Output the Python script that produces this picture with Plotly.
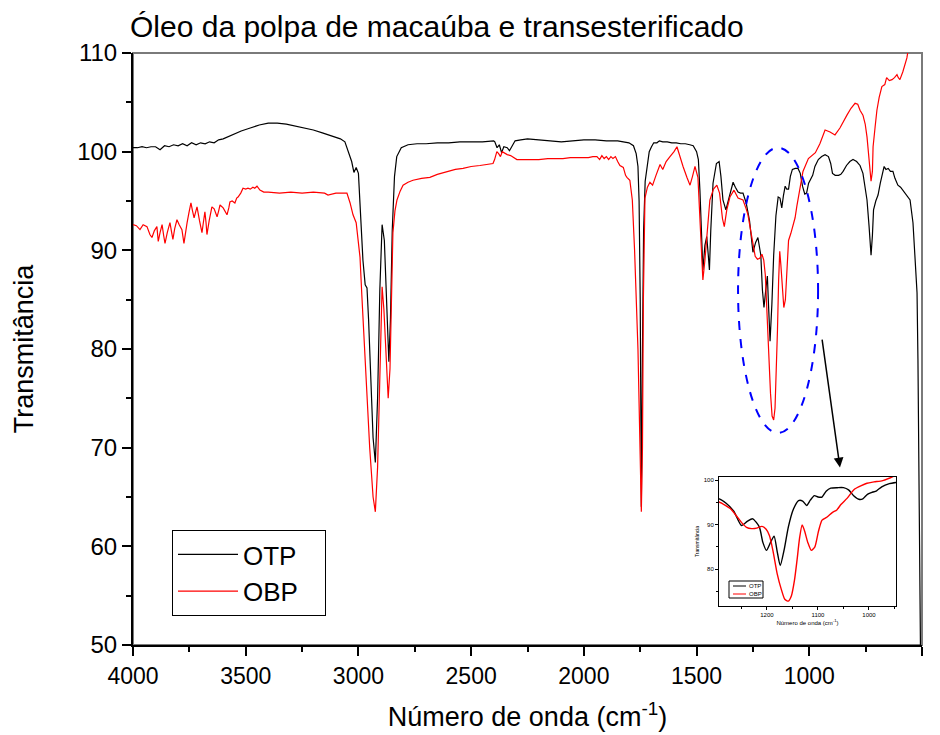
import plotly.graph_objects as go

# ---------------- data ----------------
otp_x = [4000, 3980, 3960, 3940, 3920, 3900, 3880, 3860, 3840, 3820, 3800, 3780, 3760, 3740, 3720,
         3700, 3680, 3660, 3640, 3620, 3600, 3560, 3520, 3480, 3440, 3400, 3360, 3320, 3280, 3240,
         3200, 3160, 3120, 3080, 3060, 3040, 3030, 3020, 3010, 3000, 2990, 2980, 2970, 2962, 2955,
         2945, 2935, 2925, 2915, 2905, 2895, 2885, 2875, 2865, 2858, 2850, 2840, 2830, 2810, 2780,
         2740, 2700, 2650, 2600, 2550, 2500, 2450, 2400, 2395, 2385, 2375, 2365, 2355, 2340, 2330,
         2320, 2305, 2280, 2250, 2200, 2150, 2100, 2050, 2000, 1950, 1900, 1850, 1800, 1780, 1768,
         1760, 1755, 1750, 1745, 1740, 1735, 1728, 1720, 1710, 1700, 1690, 1676, 1665, 1650, 1630,
         1610, 1590, 1570, 1550, 1530, 1515, 1500, 1492, 1485, 1478, 1472, 1463, 1455, 1448, 1443,
         1437, 1427, 1412, 1400, 1392, 1383, 1370, 1360, 1350, 1338, 1328, 1316, 1305, 1294, 1280,
         1265, 1250, 1238, 1228, 1215, 1208, 1201, 1193, 1186, 1180, 1174, 1166, 1158, 1148, 1138,
         1130, 1122, 1115, 1107, 1100, 1092, 1084, 1075, 1062, 1050, 1040, 1030, 1020, 1012, 1003,
         995, 985, 975, 960, 945, 930, 915, 905, 897, 885, 870, 860, 850, 835, 820,
         806, 790, 775, 762, 752, 744, 735, 726, 720, 715, 705, 695, 685, 675, 668,
         660, 650, 640, 629, 620, 607, 595, 585, 570, 553, 540, 530, 522, 518, 514,
         510, 505]
otp_y = [100.4, 100.4, 100.5, 100.4, 100.5, 100.5, 100.2, 100.6, 100.5, 100.7, 100.6, 100.8, 100.6, 100.9, 100.7,
         100.9, 100.8, 101.0, 100.9, 101.2, 101.3, 101.7, 102.1, 102.4, 102.7, 102.9, 102.9, 102.8, 102.6, 102.4,
         102.2, 101.9, 101.6, 101.3, 101.0, 99.8, 99.0, 97.9, 98.4, 97.8, 94.0, 89.0, 86.5, 86.2, 83.0,
         77.0, 71.0, 68.5, 75.0, 86.0, 92.6, 91.0, 85.0, 78.7, 83.0, 92.0, 97.5, 99.5, 100.4, 100.7,
         100.8, 100.8, 100.9, 100.9, 101.0, 101.0, 101.0, 101.1, 101.0, 100.4, 100.7, 99.9, 100.5, 100.4, 100.1,
         100.5, 101.1, 101.2, 101.3, 101.2, 101.1, 101.0, 101.1, 101.2, 101.2, 101.1, 101.1, 100.9, 100.6, 99.8,
         98.5, 95.0, 85.0, 64.0, 80.0, 92.0, 97.0, 98.5, 100.0, 100.5, 100.9, 100.9, 101.1, 101.0, 101.0,
         100.9, 100.9, 100.8, 100.8, 100.7, 100.6, 100.0, 99.2, 96.0, 91.0, 88.0, 90.5, 91.4, 89.5, 88.0,
         92.0, 96.8, 98.8, 99.0, 97.5, 95.1, 94.1, 95.0, 95.8, 96.9, 96.4, 95.9, 95.8, 95.8, 94.8,
         93.0, 89.8, 90.8, 91.3, 89.5, 86.0, 84.2, 86.0, 87.4, 84.0, 80.8, 84.5, 89.5, 93.5, 95.4,
         95.3, 94.3, 95.5, 96.5, 96.2, 96.2, 97.5, 98.2, 98.3, 98.3, 97.8, 96.5, 95.7, 95.8, 96.8,
         97.2, 97.6, 98.5, 99.2, 99.5, 99.7, 99.5, 98.8, 97.8, 97.6, 97.6, 97.7, 98.0, 98.6, 99.0,
         99.2, 99.0, 98.6, 97.8, 96.5, 95.1, 92.5, 89.5, 91.5, 94.1, 95.0, 95.6, 96.8, 97.8, 98.5,
         98.2, 98.3, 98.0, 98.0, 97.3, 96.6, 96.4, 96.1, 95.6, 95.1, 92.8, 89.0, 85.7, 79.0, 65.0,
         50.0, 45.0]

obp_x = [4000, 3985, 3969, 3955, 3938, 3925, 3916, 3905, 3894, 3888, 3880, 3871, 3864, 3858, 3848,
         3836, 3830, 3823, 3815, 3805, 3795, 3783, 3774, 3768, 3760, 3752, 3743, 3736, 3729, 3722,
         3716, 3705, 3694, 3688, 3681, 3676, 3672, 3662, 3650, 3640, 3627, 3620, 3614, 3600, 3590,
         3583, 3575, 3570, 3560, 3548, 3540, 3534, 3522, 3512, 3500, 3490, 3480, 3468, 3460, 3450,
         3437, 3420, 3400, 3350, 3300, 3250, 3200, 3150, 3135, 3100, 3082, 3051, 3037, 3024, 3010,
         3000, 2993, 2985, 2975, 2971, 2965, 2950, 2935, 2925, 2915, 2905, 2895, 2887, 2878, 2868,
         2860, 2852, 2847, 2838, 2829, 2815, 2802, 2780, 2758, 2720, 2683, 2650, 2607, 2570, 2536,
         2500, 2461, 2430, 2403, 2396, 2390, 2386, 2378, 2370, 2362, 2355, 2340, 2325, 2310, 2297,
         2270, 2239, 2200, 2160, 2120, 2093, 2060, 2030, 2000, 1980, 1960, 1942, 1930, 1920, 1910,
         1900, 1890, 1880, 1871, 1860, 1850, 1840, 1825, 1815, 1809, 1796, 1785, 1775, 1760, 1750,
         1745, 1740, 1736, 1729, 1718, 1707, 1695, 1680, 1662, 1650, 1635, 1618, 1600, 1587, 1574,
         1560, 1543, 1529, 1518, 1507, 1494, 1485, 1478, 1472, 1463, 1455, 1441, 1425, 1410, 1398,
         1385, 1377, 1366, 1352, 1334, 1316, 1294, 1280, 1272, 1260, 1250, 1240, 1230, 1220, 1210,
         1202, 1195, 1188, 1180, 1172, 1165, 1158, 1152, 1146, 1141, 1136, 1131, 1126, 1120, 1113,
         1106, 1099, 1092, 1082, 1072, 1063, 1055, 1043, 1028, 1004, 990, 973, 953, 940, 930,
         908, 886, 864, 848, 833, 815, 797, 785, 775, 762, 752, 744, 735, 726, 720,
         717, 708, 700, 690, 678, 665, 657, 645, 633, 622, 611, 605, 598, 585, 575,
         567, 560, 545, 520, 500]
obp_y = [92.6, 92.5, 92.1, 92.6, 92.4, 91.6, 91.3, 92.0, 92.4, 90.9, 91.8, 92.6, 91.5, 90.7, 91.8,
         92.8, 92.0, 91.1, 92.2, 93.1, 92.6, 92.1, 90.7, 91.8, 92.8, 93.8, 94.8, 94.0, 93.3, 93.9,
         94.4, 93.0, 91.8, 92.8, 93.9, 92.8, 91.6, 93.0, 94.4, 94.2, 93.4, 94.0, 94.6, 94.3, 93.9,
         93.6, 94.3, 94.9, 95.0, 94.8, 95.3, 95.4, 95.8, 96.3, 96.2, 96.3, 96.2, 96.4, 96.3, 96.5,
         96.1, 95.9, 95.9, 95.8, 95.9, 95.8, 95.9, 95.8, 95.6, 95.8, 95.8, 95.8, 94.8, 93.6, 92.8,
         91.0, 89.3, 85.5, 81.0, 79.8, 77.0, 70.0, 65.0, 63.5, 68.0, 78.0, 86.3, 84.0, 79.0, 75.0,
         78.0, 88.0, 91.8, 94.0, 95.1, 96.0, 96.6, 96.9, 97.1, 97.3, 97.4, 97.7, 98.0, 98.2, 98.3,
         98.5, 98.6, 98.7, 98.8, 99.2, 99.6, 100.0, 99.8, 99.5, 100.0, 99.9, 99.7, 99.6, 99.4, 99.2,
         99.2, 99.2, 99.2, 99.3, 99.3, 99.3, 99.4, 99.4, 99.4, 99.4, 99.5, 99.5, 99.2, 99.6, 99.3,
         99.5, 99.2, 99.5, 99.3, 99.5, 99.0, 98.6, 98.4, 97.6, 97.4, 97.1, 95.1, 90.0, 80.0, 68.0,
         63.5, 70.0, 85.0, 95.3, 96.4, 96.9, 96.6, 97.6, 98.7, 98.2, 99.0, 99.5, 100.0, 100.5, 99.5,
         98.5, 97.4, 96.6, 97.5, 98.5, 97.4, 93.0, 89.5, 87.0, 89.0, 91.1, 95.1, 96.2, 96.6, 95.8,
         93.2, 92.4, 94.1, 95.4, 96.1, 95.3, 95.1, 94.2, 93.6, 92.0, 90.5, 89.4, 89.1, 89.2, 89.6,
         89.0, 87.5, 84.0, 79.0, 75.5, 73.2, 72.8, 74.0, 77.5, 82.0, 87.0, 89.9, 88.5, 86.0, 84.2,
         85.0, 88.5, 91.0, 91.7, 92.7, 93.3, 94.5, 95.9, 98.0, 99.3, 99.6, 99.9, 100.8, 101.6, 102.2,
         102.0, 101.7, 102.4, 103.0, 103.7, 104.4, 104.9, 104.8, 104.2, 103.7, 102.8, 101.5, 99.0, 97.0, 98.0,
         100.5, 102.5, 104.2, 105.5, 106.6, 106.8, 107.5, 107.2, 107.3, 107.5, 107.8, 107.5, 107.3, 108.1, 108.8,
         109.5, 110.5, 112.5, 115.0, 117.0]

series_names = ["OTP", "OBP"]
series_colors = ["#000000", "#FF0000"]

main_x_range = [4000, 500]
main_y_range = [50, 110]
inset_x_range = [1294, 947]
inset_y_range = [71.7, 100.7]

title_text = "Óleo da polpa de macaúba e transesterificado"
x_title = "Número de onda (cm<sup>-1</sup>)"
y_title = "Transmitância"

FONT = "Liberation Sans, Arial, sans-serif"

# ---------------- figure ----------------
fig = go.Figure()
data = [(otp_x, otp_y), (obp_x, obp_y)]

NBSP = "\u00a0"
for (xs, ys), name, col in zip(data, series_names, series_colors):
    fig.add_trace(go.Scatter(x=xs, y=ys, mode="lines", name=name + NBSP * 3,
                             line=dict(color=col, width=1.2),
                             xaxis="x", yaxis="y", showlegend=True))
for (xs, ys), name, col in zip(data, series_names, series_colors):
    fig.add_trace(go.Scatter(x=xs, y=ys, mode="lines", name=name,
                             line=dict(color=col, width=1.4, shape="spline", smoothing=0.6),
                             xaxis="x2", yaxis="y2", showlegend=False))

W, H = 940, 735
L, R, T, B = 133, 18, 53, 90
pw = W - L - R
ph = H - T - B

def px_x(p):
    return (p - L) / pw

def px_y(p):
    return (H - B - p) / ph

fig.update_layout(
    width=W, height=H,
    margin=dict(l=L, r=R, t=T, b=B, autoexpand=False),
    paper_bgcolor="white", plot_bgcolor="white",
    font=dict(family=FONT, color="black"),
    title=dict(text=title_text, x=130 / W, xanchor="left", xref="container",
               y=1 - 26 / H, yanchor="middle", yref="container",
               font=dict(size=30, family=FONT, color="black")),
    xaxis=dict(range=main_x_range, domain=[0, 1], showgrid=False, zeroline=False,
               showline=True, linecolor="black", linewidth=2,
               ticks="outside", ticklen=9, tickwidth=2, tickcolor="black",
               dtick=500, tick0=500,
               minor=dict(ticks="outside", ticklen=5, tickwidth=2, tickcolor="black", dtick=250),
               tickfont=dict(size=23, family=FONT),
               title=dict(text=x_title, font=dict(size=27, family=FONT), standoff=20)),
    yaxis=dict(range=main_y_range, domain=[0, 1], showgrid=False, zeroline=False,
               showline=True, linecolor="black", linewidth=2,
               ticks="outside", ticklen=9, tickwidth=2, tickcolor="black",
               dtick=10, tick0=50,
               minor=dict(ticks="outside", ticklen=5, tickwidth=2, tickcolor="black", dtick=5),
               tickfont=dict(size=24, family=FONT),
               title=dict(text=y_title, font=dict(size=27, family=FONT), standoff=36)),
    xaxis2=dict(range=inset_x_range, domain=[px_x(719), px_x(896)], anchor="y2",
                showgrid=False, zeroline=False, showline=True, mirror=True,
                linecolor="black", linewidth=1,
                ticks="outside", ticklen=3, tickwidth=1, tickcolor="black",
                tickvals=[1200, 1100, 1000],
                minor=dict(ticks="outside", ticklen=2, tickwidth=1, tickcolor="black",
                           tickvals=[1250, 1150, 1050, 950]),
                tickfont=dict(size=6, family=FONT),
                title=dict(text=x_title, font=dict(size=6, family=FONT), standoff=3)),
    yaxis2=dict(range=inset_y_range, domain=[px_y(606), px_y(477)], anchor="x2",
                showgrid=False, zeroline=False, showline=True, mirror=True,
                linecolor="black", linewidth=1,
                ticks="outside", ticklen=3, tickwidth=1, tickcolor="black",
                tickvals=[80, 90, 100],
                minor=dict(ticks="outside", ticklen=2, tickwidth=1, tickcolor="black",
                           tickvals=[75, 85, 95]),
                tickfont=dict(size=6, family=FONT),
                title=dict(text=y_title, font=dict(size=5, family=FONT), standoff=4)),
    legend=dict(x=px_x(172), y=px_y(530), xanchor="left", yanchor="top",
                bgcolor="white", bordercolor="black", borderwidth=1,
                font=dict(size=26, family=FONT, color="black"),
                itemwidth=60, tracegroupgap=0),
    showlegend=True,
)

# plot frame (grey top/right border like the original)
fig.add_shape(type="rect", xref="paper", yref="paper", x0=0, x1=1, y0=0, y1=1,
              line=dict(color="#7a7a7a", width=2), fillcolor="rgba(0,0,0,0)", layer="below")

# dashed highlight ellipse around the 1300-960 cm-1 region
fig.add_shape(type="circle", xref="x", yref="y", x0=1316, x1=961, y0=71.5, y1=100.4,
              line=dict(color="#0000FF", width=2, dash="dash"))

# arrow pointing to the inset
fig.add_annotation(x=864, y=68.0, ax=944, ay=81.1, xref="x", yref="y", axref="x", ayref="y",
                   text="", showarrow=True, arrowhead=2, arrowsize=1.3, arrowwidth=1.5,
                   arrowcolor="black")

# small legend inside the inset
fig.add_shape(type="rect", xref="paper", yref="paper",
              x0=px_x(729), x1=px_x(763), y0=px_y(598), y1=px_y(581),
              line=dict(color="black", width=1), fillcolor="white")
for i, (name, col) in enumerate(zip(series_names, series_colors)):
    yy = px_y(586 + 8 * i)
    fig.add_shape(type="line", xref="paper", yref="paper",
                  x0=px_x(733), x1=px_x(746), y0=yy, y1=yy,
                  line=dict(color=col, width=1))
    fig.add_annotation(x=px_x(747), y=yy, xref="paper", yref="paper", text=name,
                       showarrow=False, xanchor="left", yanchor="middle",
                       font=dict(size=6, family=FONT, color="black"))

fig.write_html("out.html")
